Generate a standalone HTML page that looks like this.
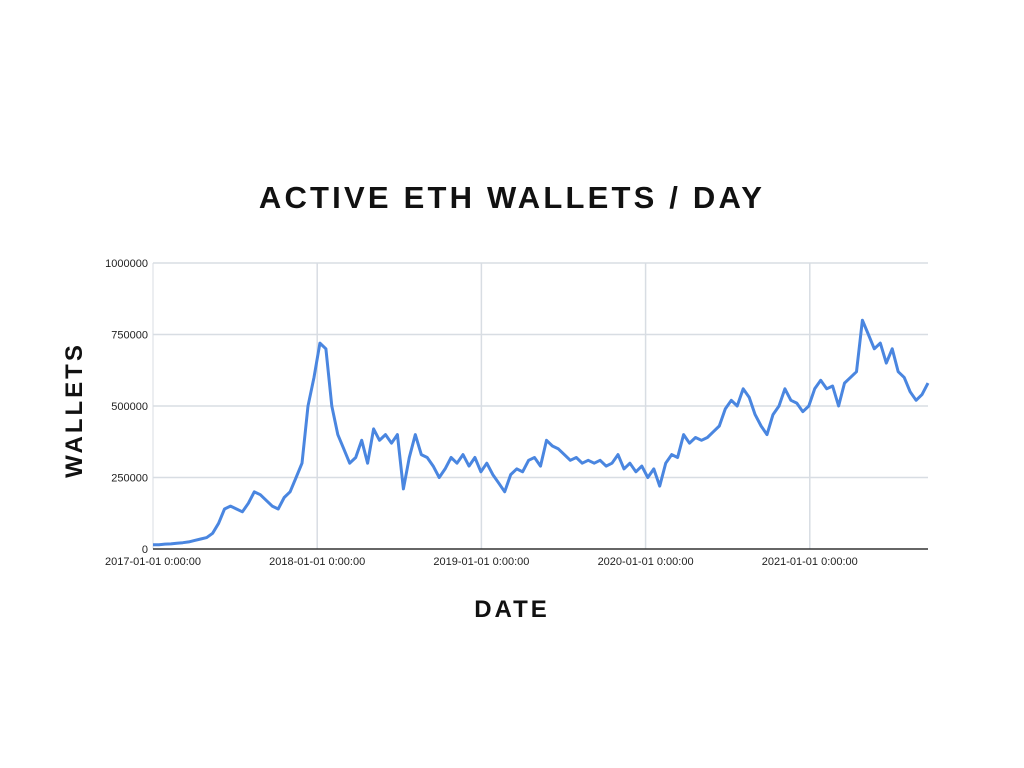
<!DOCTYPE html>
<html><head><meta charset="utf-8"><style>
html,body{margin:0;padding:0;background:#fff;}
body{width:1024px;height:768px;overflow:hidden;position:relative;font-family:"Liberation Sans",sans-serif;}
.title{position:absolute;left:0;width:1024px;top:180px;text-align:center;font-size:31px;font-weight:bold;letter-spacing:3.2px;color:#111;}
.xt{position:absolute;left:0;width:1024px;top:596px;text-align:center;font-size:24px;font-weight:bold;letter-spacing:3px;color:#111;}
.yt{position:absolute;left:75px;top:410px;transform:translate(-50%,-50%) rotate(-90deg);font-size:24px;font-weight:bold;letter-spacing:3px;color:#111;white-space:nowrap;}
svg{position:absolute;left:0;top:0;}
</style></head><body>
<div class="title">ACTIVE ETH WALLETS / DAY</div>
<div class="yt">WALLETS</div>
<div class="xt">DATE</div>
<svg id="chart" width="1024" height="768"></svg>
<script>
const yTicks=[0,250000,500000,750000,1000000];
const yTickLabels=["0","250000","500000","750000","1000000"];
const xTicks=[0,1,2,3,4];
const xTickLabels=["2017-01-01 0:00:00","2018-01-01 0:00:00","2019-01-01 0:00:00","2020-01-01 0:00:00","2021-01-01 0:00:00"];
const startYear=0, endYear=4.72;
// wallets in thousands, sampled evenly across the date range
const wallets=[15,15,17,18,20,22,25,30,35,40,55,90,140,150,140,130,160,200,190,170,150,140,180,200,250,300,500,600,720,700,500,400,350,300,320,380,300,420,380,400,370,400,210,320,400,330,320,290,250,280,320,300,330,290,320,270,300,260,230,200,260,280,270,310,320,290,380,360,350,330,310,320,300,310,300,310,290,300,330,280,300,270,290,250,280,220,300,330,320,400,370,390,380,390,410,430,490,520,500,560,530,470,430,400,470,500,560,520,510,480,500,560,590,560,570,500,580,600,620,800,750,700,720,650,700,620,600,550,520,540,580];
const L=153,R=928,T=263,B=549;
const xs=t=>L+(t-startYear)/(endYear-startYear)*(R-L);
const ys=v=>B-v/1000000*(B-T);
const svg=document.getElementById('chart');
const NS='http://www.w3.org/2000/svg';
function mk(tag,attrs){const e=document.createElementNS(NS,tag);for(const k in attrs)e.setAttribute(k,attrs[k]);svg.appendChild(e);return e;}
yTicks.forEach((v,i)=>{
  if(v>0){const g=mk('line',{x1:L,x2:R,y1:ys(v),y2:ys(v),stroke:'#d8dde3','stroke-width':1.5});
  
  }
  const t=mk('text',{x:L-5,y:ys(v)+4,'text-anchor':'end','font-size':11,fill:'#222','font-family':'Liberation Sans, sans-serif'});
  t.textContent=yTickLabels[i];
  
  
});
xTicks.forEach((v,i)=>{
  if(v>0){const g=mk('line',{x1:xs(v),x2:xs(v),y1:T,y2:B,stroke:'#d8dde3','stroke-width':1.5});
  
  }
  const t=mk('text',{x:xs(v),y:B+16,'text-anchor':'middle','font-size':11,fill:'#222','font-family':'Liberation Sans, sans-serif'});
  t.textContent=xTickLabels[i];
  
  
});
const lv=mk('line',{x1:L,x2:L,y1:T,y2:B,stroke:'#d8dde3','stroke-width':1});


const ax=mk('line',{x1:L,x2:R,y1:B,y2:B,stroke:'#333','stroke-width':1.5});


const n=wallets.length;
const pts=wallets.map((v,i)=>xs(startYear+i/(n-1)*(endYear-startYear)).toFixed(1)+','+ys(v*1000).toFixed(1)).join(' ');
const pl=mk('polyline',{points:pts,fill:'none',stroke:'#4a86e0','stroke-width':3,'stroke-linejoin':'round'});


</script>
</body></html>
